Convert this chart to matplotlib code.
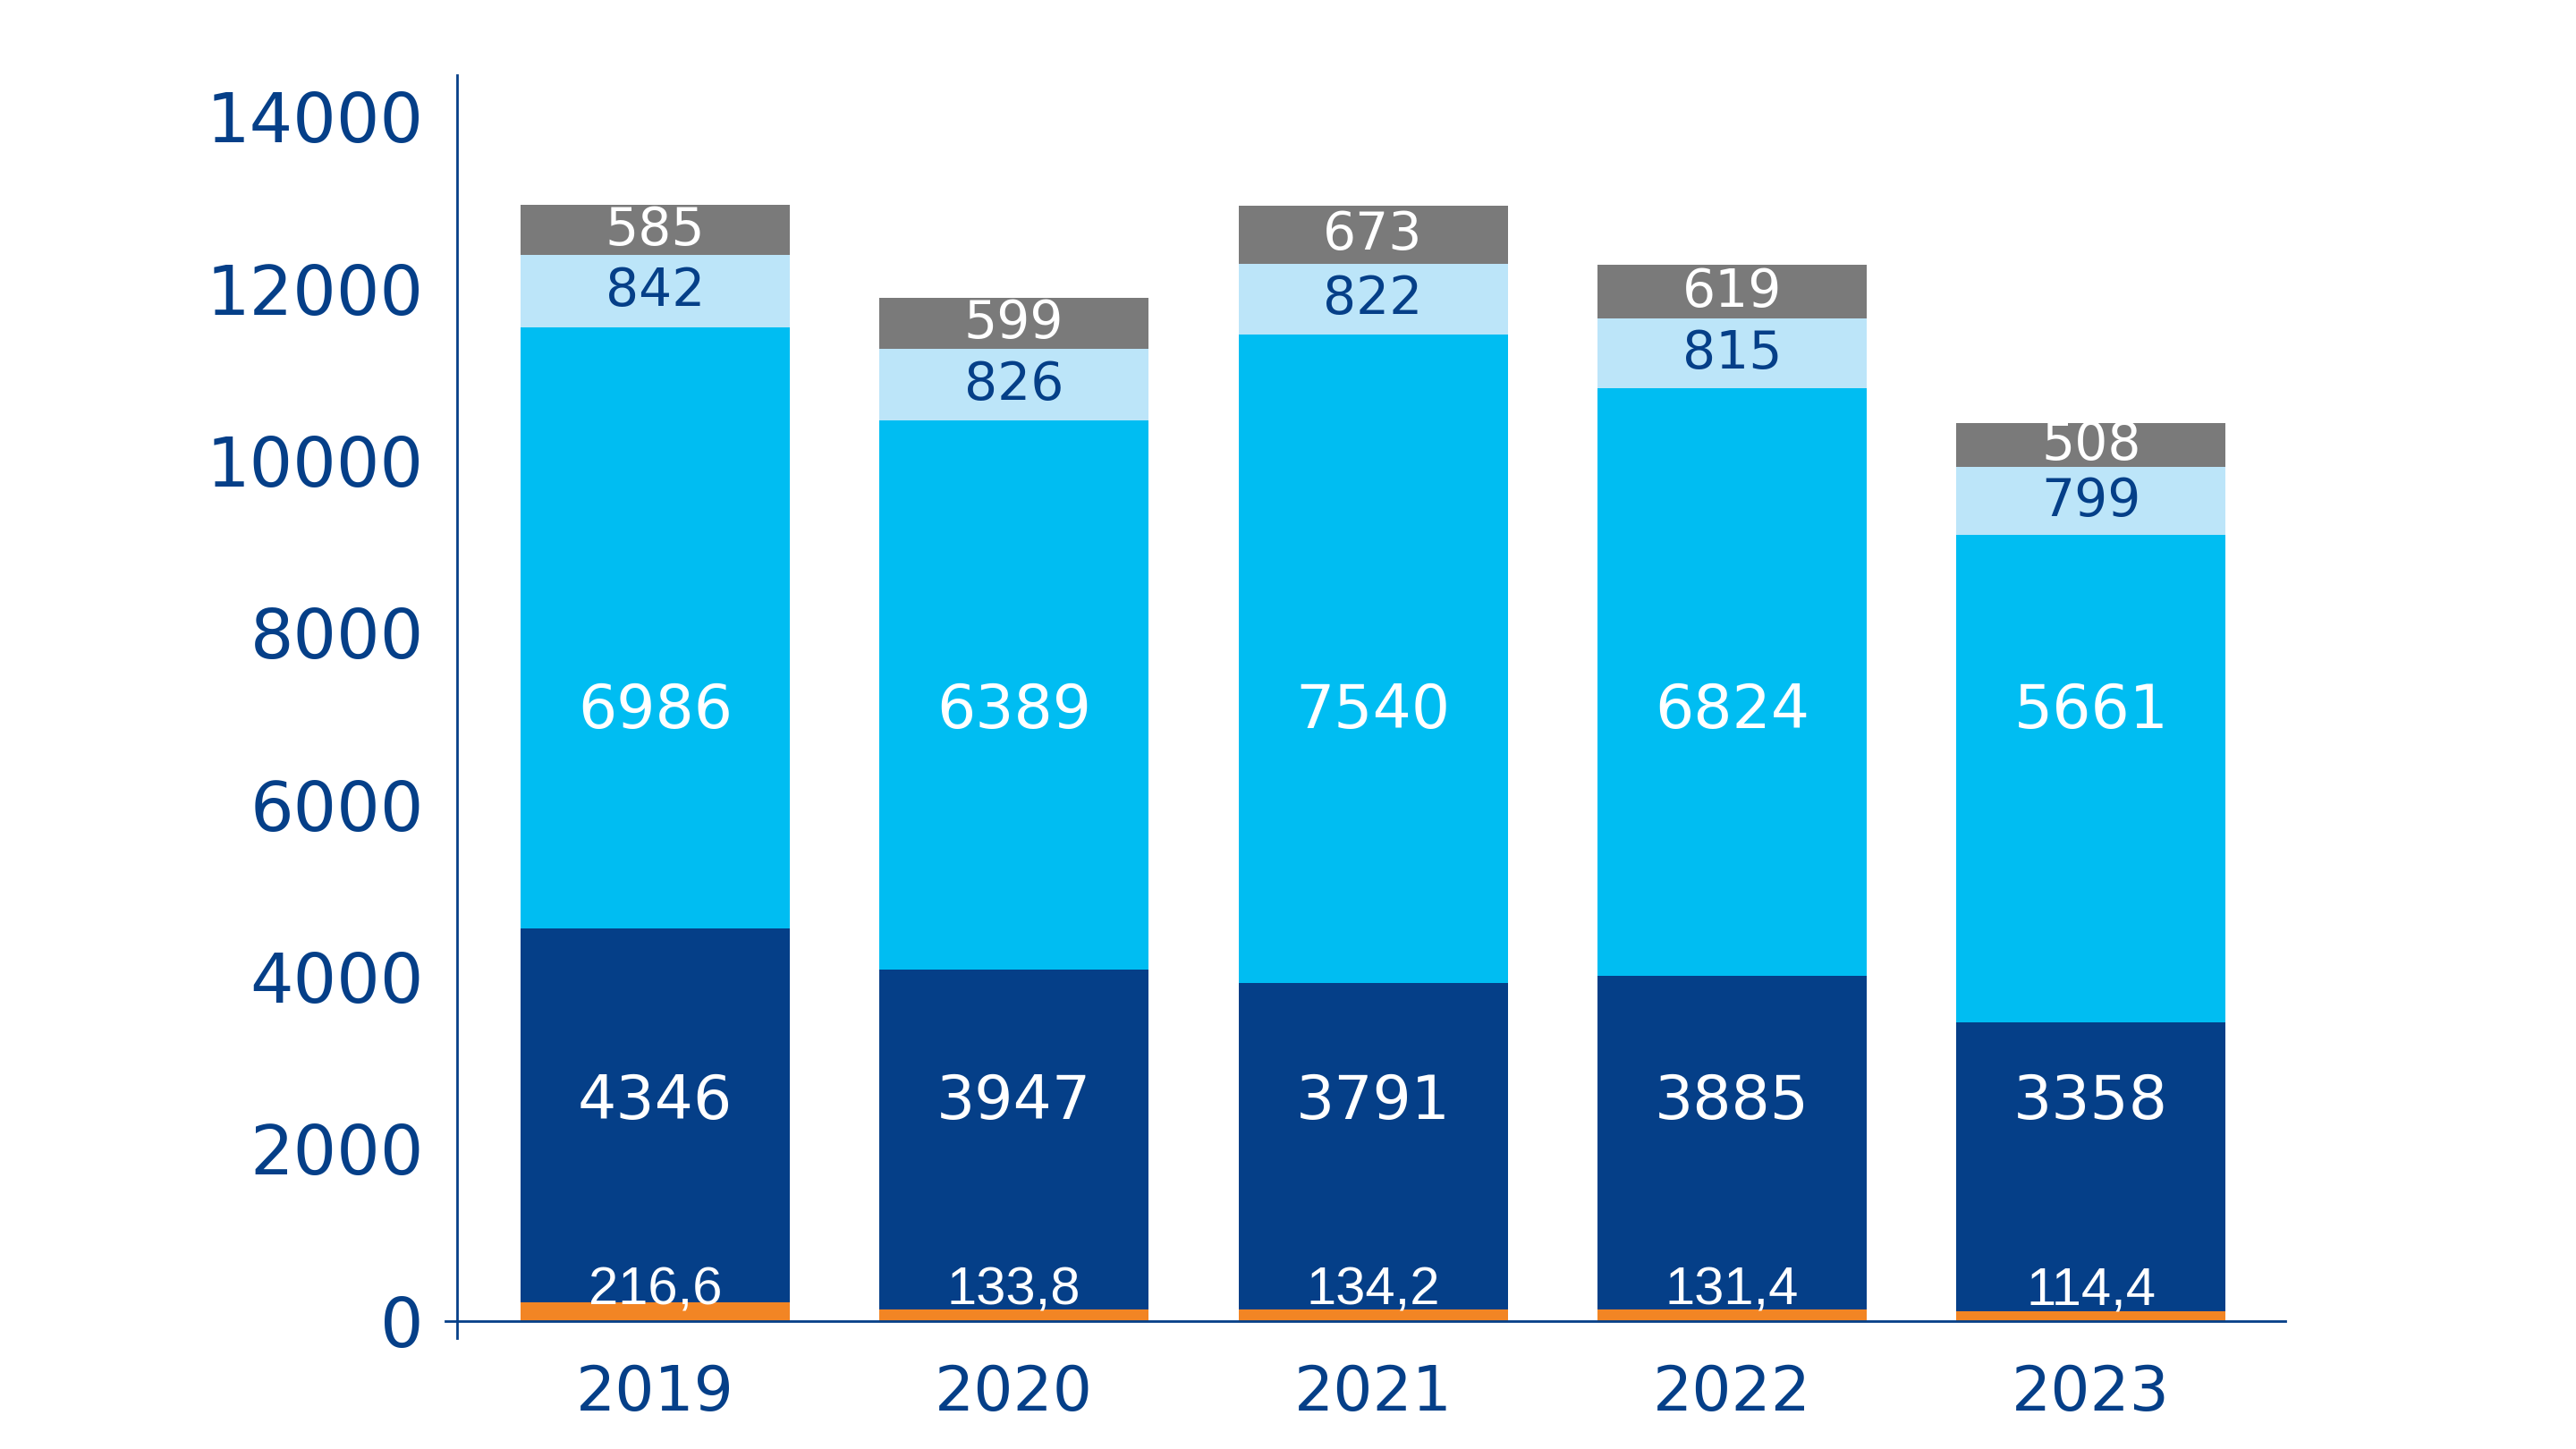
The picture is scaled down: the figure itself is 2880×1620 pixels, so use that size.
import matplotlib
matplotlib.use("Agg")
import matplotlib.pyplot as plt
import numpy as np

years = ["2019", "2020", "2021", "2022", "2023"]
orange = [216.6, 133.8, 134.2, 131.4, 114.4]
dark = [4346, 3947, 3791, 3885, 3358]
cyan = [6986, 6389, 7540, 6824, 5661]
light = [842, 826, 822, 815, 799]
gray = [585, 599, 673, 619, 508]
yticks = [0, 2000, 4000, 6000, 8000, 10000, 12000, 14000]

C_OR = "#F28524"
C_DK = "#053F88"
C_CY = "#00BDF2"
C_LT = "#BCE5F9"
C_GR = "#7A7A7A"
TXT = "#053F88"

plt.rcParams['font.family'] = ['DejaVu Sans']

fig = plt.figure(figsize=(28.8, 16.2), dpi=100)
ax = fig.add_axes([0.173, 0.0765, 0.887 - 0.173, 0.948 - 0.0765])

x = np.arange(len(years))
w = 0.75
series = [(orange, C_OR), (dark, C_DK), (cyan, C_CY), (light, C_LT), (gray, C_GR)]
bottom = np.zeros(len(years))
bottoms = []
for vals, col in series:
    v = np.array(vals, dtype=float)
    ax.bar(x, v, w, bottom=bottom, color=col, edgecolor='none', zorder=2)
    bottoms.append(bottom.copy())
    bottom = bottom + v

# labels
DARK_LABEL_Y = 2550
CYAN_LABEL_Y = 7090
ORANGE_LABEL_Y = 350
for i in range(len(years)):
    ax.text(x[i], ORANGE_LABEL_Y, f"{orange[i]:.1f}".replace('.', ','), ha='center', va='center',
            color='white', fontsize=43, family=['Liberation Sans', 'DejaVu Sans'], zorder=3)
    ax.text(x[i], DARK_LABEL_Y, f"{dark[i]}", ha='center', va='center', color='white', fontsize=49, zorder=3)
    ax.text(x[i], CYAN_LABEL_Y, f"{cyan[i]}", ha='center', va='center', color='white', fontsize=49, zorder=3)
    ax.text(x[i], bottoms[3][i] + light[i] / 2, f"{light[i]}", ha='center', va='center', color=TXT,
            fontsize=42, zorder=3)
    ax.text(x[i], bottoms[4][i] + gray[i] / 2, f"{gray[i]}", ha='center', va='center', color='white',
            fontsize=42, zorder=3)

ax.set_xlim(-0.583, 4.54)
ax.set_ylim(-200, 14480)
ax.set_xticks(x)
ax.set_xticklabels(years)
ax.set_yticks(yticks)
ax.set_yticklabels([str(t) for t in yticks])
ax.tick_params(axis='both', length=0, colors=TXT, labelsize=55)
ax.tick_params(axis='y', pad=27)
ax.tick_params(axis='x', pad=34, labelsize=50)

for s in ['top', 'right']:
    ax.spines[s].set_visible(False)
ax.spines['left'].set_position(('data', -0.55))
ax.spines['bottom'].set_position(('data', 0))
for s in ['left', 'bottom']:
    ax.spines[s].set_color(TXT)
    ax.spines[s].set_linewidth(2)

fig.savefig("out.png", dpi=100)
